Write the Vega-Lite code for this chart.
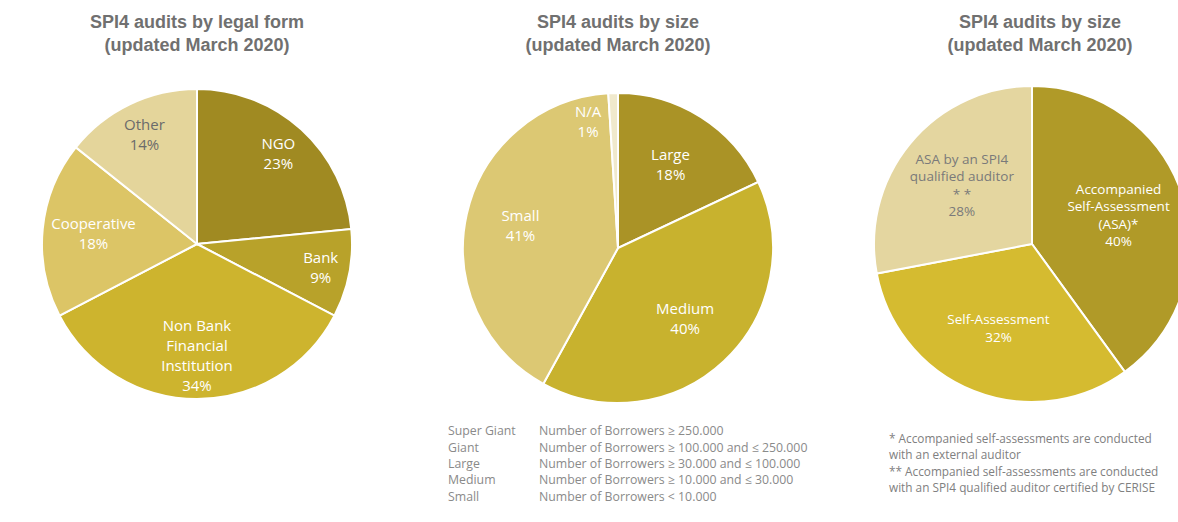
{
  "$schema": "https://vega.github.io/schema/vega-lite/v6.json",
  "padding": {"left": 0, "right": 0, "top": 14, "bottom": 0},
  "background": "white",
  "config": {
    "view": {"stroke": null},
    "font": "Open Sans",
    "title": {"font": "Liberation Sans", "fontSize": 18, "fontWeight": "bold", "color": "#707070", "lineHeight": 23, "offset": 19, "anchor": "middle"}
  },
  "spacing": 10,
  "resolve": {"scale": {"color": "independent", "theta": "independent", "x": "independent", "y": "independent"}},
  "hconcat": [
    {
      "width": 394,
      "height": 340,
      "title": {"text": ["SPI4 audits by legal form", "(updated March 2020)"]},
      "data": {"values": [
        {"k": "NGO", "v": 23, "o": 1, "label": "NGO\n23%"},
        {"k": "Bank", "v": 9, "o": 2, "label": "Bank\n9%"},
        {"k": "Non Bank Financial Institution", "v": 34, "o": 3, "label": "Non Bank\nFinancial\nInstitution\n34%"},
        {"k": "Cooperative", "v": 18, "o": 4, "label": "Cooperative\n18%"},
        {"k": "Other", "v": 14, "o": 5, "label": "Other\n14%"}
      ]},
      "transform": [
        {"stack": "v", "groupby": [], "sort": [{"field": "o", "order": "ascending"}], "as": ["v0", "v1"]},
        {"calculate": "(datum.v0 + datum.v1) / 2", "as": "mid"}
      ],
      "layer": [
        {
          "mark": {"type": "arc", "outerRadius": 155, "stroke": "white", "strokeWidth": 2},
          "encoding": {
            "theta": {"field": "v0", "type": "quantitative", "stack": null, "scale": {"domain": [0, 98]}},
            "theta2": {"field": "v1"},
            "color": {"field": "k", "type": "nominal", "legend": null,
              "scale": {"domain": ["NGO", "Bank", "Non Bank Financial Institution", "Cooperative", "Other"],
                        "range": ["#a08a22", "#b8a22a", "#cdb42e", "#dcc566", "#e4d59b"]}}
          }
        },
        {
          "transform": [{"filter": "datum.k === 'NGO' || datum.k === 'Other'"}],
          "mark": {"type": "text", "radius": 121, "dy": -10, "lineBreak": "\n", "fontSize": 15, "lineHeight": 20, "baseline": "middle"},
          "encoding": {
            "theta": {"field": "mid", "type": "quantitative", "stack": null},
            "text": {"field": "label"},
            "color": {"condition": {"test": "datum.k === 'Other'", "value": "#6b6b6b"}, "value": "#ffffff"}
          }
        },
        {
          "transform": [{"filter": "datum.k === 'Bank'"}],
          "mark": {"type": "text", "radius": 126, "dy": -10, "lineBreak": "\n", "fontSize": 15, "lineHeight": 20, "baseline": "middle", "color": "#ffffff"},
          "encoding": {
            "theta": {"field": "mid", "type": "quantitative", "stack": null},
            "text": {"field": "label"}
          }
        },
        {
          "transform": [{"filter": "datum.k === 'Cooperative'"}],
          "mark": {"type": "text", "radius": 104, "dy": -10, "lineBreak": "\n", "fontSize": 15, "lineHeight": 20, "baseline": "middle", "color": "#ffffff"},
          "encoding": {
            "theta": {"field": "mid", "type": "quantitative", "stack": null},
            "text": {"field": "label"}
          }
        },
        {
          "transform": [{"filter": "datum.k === 'Non Bank Financial Institution'"}],
          "mark": {"type": "text", "radius": 112, "dy": -30, "lineBreak": "\n", "fontSize": 15, "lineHeight": 20, "baseline": "middle", "color": "#ffffff"},
          "encoding": {
            "theta": {"field": "mid", "type": "quantitative", "stack": null},
            "text": {"field": "label"}
          }
        }
      ]
    },
    {
      "spacing": 1,
      "resolve": {"scale": {"color": "independent", "theta": "independent", "x": "independent", "y": "independent"}},
      "vconcat": [
        {
          "width": 428,
          "height": 348,
          "title": {"text": ["SPI4 audits by size", "(updated March 2020)"]},
          "data": {"values": [
            {"k": "Large", "v": 18, "o": 1, "label": "Large\n18%"},
            {"k": "Medium", "v": 40, "o": 2, "label": "Medium\n40%"},
            {"k": "Small", "v": 41, "o": 3, "label": "Small\n41%"},
            {"k": "N/A", "v": 1, "o": 4, "label": "N/A\n1%"}
          ]},
          "transform": [
            {"stack": "v", "groupby": [], "sort": [{"field": "o", "order": "ascending"}], "as": ["v0", "v1"]},
            {"calculate": "(datum.v0 + datum.v1) / 2", "as": "mid"}
          ],
          "layer": [
            {
              "mark": {"type": "arc", "outerRadius": 155, "stroke": "white", "strokeWidth": 2},
              "encoding": {
                "theta": {"field": "v0", "type": "quantitative", "stack": null, "scale": {"domain": [0, 100]}},
                "theta2": {"field": "v1"},
                "color": {"field": "k", "type": "nominal", "legend": null,
                  "scale": {"domain": ["Large", "Medium", "Small", "N/A"],
                            "range": ["#aa9326", "#c8b22e", "#dcc873", "#f0e9cc"]}}
              }
            },
            {
              "transform": [{"filter": "datum.k === 'Large' || datum.k === 'Medium'"}],
              "mark": {"type": "text", "radius": 98, "dy": -10, "lineBreak": "\n", "fontSize": 15, "lineHeight": 20, "baseline": "middle", "color": "#ffffff"},
              "encoding": {
                "theta": {"field": "mid", "type": "quantitative", "stack": null},
                "text": {"field": "label"}
              }
            },
            {
              "transform": [{"filter": "datum.k === 'Small'"}],
              "mark": {"type": "text", "radius": 100, "dy": -10, "lineBreak": "\n", "fontSize": 15, "lineHeight": 20, "baseline": "middle", "color": "#ffffff"},
              "encoding": {
                "theta": {"field": "mid", "type": "quantitative", "stack": null},
                "text": {"field": "label"}
              }
            },
            {
              "transform": [{"filter": "datum.k === 'N/A'"}],
              "mark": {"type": "text", "radius": 126, "dx": -26, "dy": -10, "lineBreak": "\n", "fontSize": 15, "lineHeight": 20, "baseline": "middle", "color": "#ffffff"},
              "encoding": {
                "theta": {"field": "mid", "type": "quantitative", "stack": null},
                "text": {"field": "label"}
              }
            }
          ]
        },
        {
          "width": 428,
          "height": 82,
          "data": {"values": [
            {"size": "Super Giant", "def": "Number of Borrowers ≥ 250.000"},
            {"size": "Giant", "def": "Number of Borrowers ≥ 100.000 and ≤ 250.000"},
            {"size": "Large", "def": "Number of Borrowers ≥ 30.000 and ≤ 100.000"},
            {"size": "Medium", "def": "Number of Borrowers ≥ 10.000 and ≤ 30.000"},
            {"size": "Small", "def": "Number of Borrowers < 10.000"}
          ]},
          "transform": [{"fold": ["size", "def"], "as": ["col", "txt"]}],
          "mark": {"type": "text", "align": "left", "baseline": "middle", "fontSize": 12.3, "color": "#8a8a8a"},
          "encoding": {
            "x": {"field": "col", "type": "nominal", "sort": ["size", "def"], "axis": null, "scale": {"type": "point", "range": [44, 135], "padding": 0}},
            "y": {"field": "size", "type": "nominal", "sort": null, "axis": null},
            "text": {"field": "txt"}
          }
        }
      ]
    },
    {
      "spacing": 17,
      "resolve": {"scale": {"color": "independent", "theta": "independent", "x": "independent", "y": "independent"}},
      "vconcat": [
        {
          "width": 380,
          "height": 340,
          "title": {"text": ["SPI4 audits by size", "(updated March 2020)"], "dx": 8},
          "data": {"values": [
            {"k": "Accompanied Self-Assessment (ASA)*", "v": 40, "o": 1, "label": "Accompanied\nSelf-Assessment\n(ASA)*\n40%"},
            {"k": "Self-Assessment", "v": 32, "o": 2, "label": "\nSelf-Assessment\n32%\n"},
            {"k": "ASA by an SPI4 qualified auditor **", "v": 28, "o": 3, "label": "ASA by an SPI4\nqualified auditor\n* *\n28%"}
          ]},
          "encoding": {
            "theta": {"field": "v", "type": "quantitative", "stack": true},
            "order": {"field": "o", "type": "quantitative"}
          },
          "layer": [
            {
              "mark": {"type": "arc", "outerRadius": 158, "stroke": "white", "strokeWidth": 2},
              "encoding": {
                "color": {"field": "k", "type": "nominal", "legend": null,
                  "scale": {"domain": ["Accompanied Self-Assessment (ASA)*", "Self-Assessment", "ASA by an SPI4 qualified auditor **"],
                            "range": ["#b09a28", "#d5bb30", "#e4d6a0"]}}
              }
            },
            {
              "mark": {"type": "text", "radius": 91, "dy": -26, "lineBreak": "\n", "fontSize": 13.5, "lineHeight": 17.5, "baseline": "middle"},
              "encoding": {
                "text": {"field": "label"},
                "color": {"condition": {"test": "datum.o === 3", "value": "#7a7a7a"}, "value": "#ffffff"}
              }
            }
          ]
        },
        {
          "width": 380,
          "height": 65,
          "data": {"values": [
            {"n": 1, "t": "* Accompanied  self-assessments  are conducted"},
            {"n": 2, "t": "with an external auditor"},
            {"n": 3, "t": "** Accompanied self-assessments  are conducted"},
            {"n": 4, "t": "with an SPI4 qualified auditor certified  by CERISE"}
          ]},
          "mark": {"type": "text", "align": "left", "baseline": "middle", "fontSize": 11.8, "color": "#808080"},
          "encoding": {
            "x": {"datum": 0, "type": "quantitative", "axis": null, "scale": {"domain": [0, 1], "range": [47, 380]}},
            "y": {"field": "n", "type": "ordinal", "axis": null},
            "text": {"field": "t"}
          }
        }
      ]
    }
  ]
}
